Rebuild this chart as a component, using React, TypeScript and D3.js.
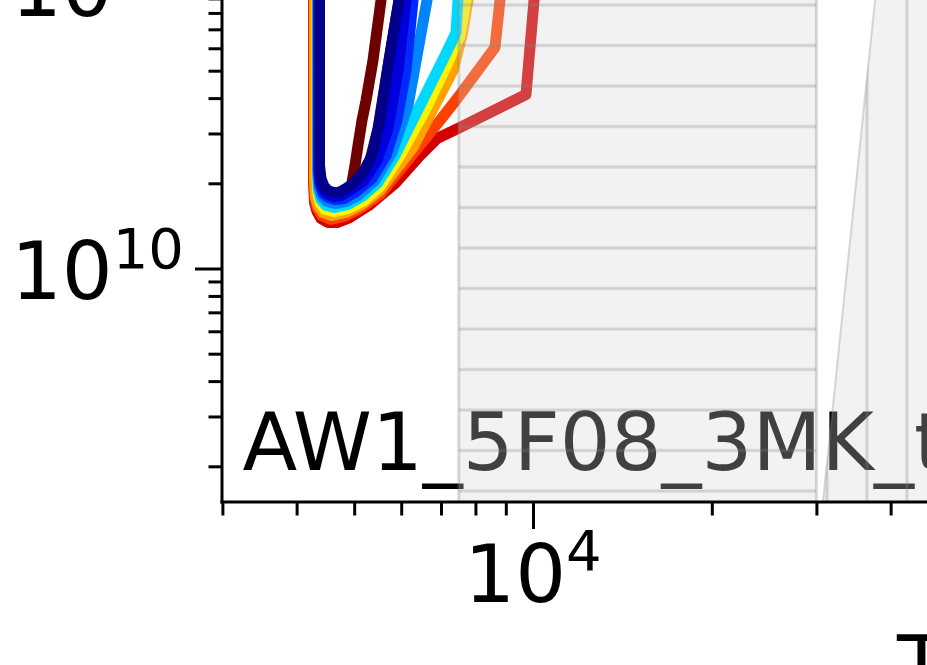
import React, { useRef, useEffect } from "react";
import * as d3 from "d3";

// tracks as [log10 Teff, log10 L] pairs
const maroonTrack = [
  [3.7475, 11.0177], [3.7441, 10.947], [3.7306, 10.735], [3.7189, 10.5936], [3.7121, 10.523],
  [3.7054, 10.4346], [3.7003, 10.364], [3.6953, 10.3039], [3.6953, 10.2827], [3.7054, 10.2968],
  [3.7222, 10.3534], [3.7391, 10.4947], [3.7576, 10.735], [3.7744, 10.947], [3.7795, 11.0177],
];
const redTrack = [
  [3.6305, 11.0177], [3.6305, 10.3039], [3.6322, 10.2332], [3.6364, 10.2014], [3.6431, 10.1767],
  [3.6549, 10.1625], [3.67, 10.1625], [3.6919, 10.1802], [3.7256, 10.2261], [3.7677, 10.3004],
  [3.8098, 10.3993], [3.8384, 10.4594], [3.8771, 10.4982], [3.9882, 10.6148], [4.0017, 10.947],
  [4.0034, 11.0177],
];
const orangeRedTrack = [
  [3.6313, 11.0177], [3.6313, 10.311], [3.633, 10.2438], [3.6372, 10.212], [3.6448, 10.1873],
  [3.6599, 10.1731], [3.6818, 10.1837], [3.7088, 10.212], [3.7424, 10.2615], [3.7929, 10.3922],
  [3.8434, 10.523], [3.8737, 10.6042], [3.936, 10.7809], [3.9444, 10.947], [3.9461, 11.0177],
];
const orangeTrack = [
  [3.6322, 11.0177], [3.6322, 10.318], [3.6338, 10.2544], [3.638, 10.2226], [3.6465, 10.1979],
  [3.6616, 10.1873], [3.6852, 10.1979], [3.7121, 10.2261], [3.7424, 10.2756], [3.798, 10.4276],
  [3.8653, 10.6996], [3.8805, 10.8233], [3.8906, 10.947], [3.8939, 11.0177],
];
const yellowTrack = [
  [3.6364, 11.0177], [3.6364, 10.3251], [3.638, 10.265], [3.6414, 10.2332], [3.6498, 10.2085],
  [3.665, 10.2014], [3.6886, 10.212], [3.7155, 10.2403], [3.7424, 10.2898], [3.7761, 10.3993],
  [3.8182, 10.5583], [3.8569, 10.7279], [3.8771, 10.8233], [3.8872, 10.947], [3.8906, 11.0177],
];
const cyanTrack = [
  [3.6372, 11.0177], [3.6372, 10.3322], [3.6389, 10.2756], [3.6431, 10.2438], [3.6515, 10.2226],
  [3.6667, 10.2155], [3.6886, 10.2261], [3.7121, 10.2544], [3.7391, 10.3039], [3.7677, 10.3993],
  [3.8098, 10.576], [3.8519, 10.7527], [3.8704, 10.8339], [3.8737, 10.947], [3.8754, 11.0177],
];
const skyTrack = [
  [3.638, 11.0177], [3.638, 10.3392], [3.6397, 10.2862], [3.6448, 10.2544], [3.6532, 10.2367],
  [3.6667, 10.2297], [3.6852, 10.2367], [3.7054, 10.258], [3.734, 10.311], [3.7626, 10.4099],
  [3.7896, 10.576], [3.8215, 10.947], [3.8283, 11.0177],
];
const blueTrack = [
  [3.6389, 11.0177], [3.6389, 10.3463], [3.6414, 10.2968], [3.6465, 10.265], [3.6549, 10.2509],
  [3.6667, 10.2438], [3.6818, 10.2473], [3.7003, 10.2686], [3.729, 10.318], [3.7525, 10.3993],
  [3.771, 10.523], [3.7862, 10.6996], [3.798, 10.947], [3.8013, 11.0177],
];
const midBlueTrack = [
  [3.6397, 11.0177], [3.6397, 10.3534], [3.6414, 10.3074], [3.6465, 10.2792], [3.6549, 10.2615],
  [3.665, 10.2544], [3.6768, 10.258], [3.6919, 10.2756], [3.7155, 10.311], [3.7374, 10.3816],
  [3.7559, 10.4947], [3.7727, 10.6996], [3.7862, 10.947], [3.7896, 11.0177],
];
const navyTrack = [
  [3.6406, 11.0177], [3.6406, 10.5936], [3.6406, 10.364], [3.6431, 10.318], [3.6481, 10.2898],
  [3.6549, 10.2756], [3.6633, 10.2686], [3.67, 10.2686], [3.6768, 10.2721], [3.6852, 10.2827],
  [3.6953, 10.2968], [3.7121, 10.3322], [3.729, 10.3993], [3.7407, 10.5053], [3.7576, 10.735],
  [3.7744, 10.947], [3.7795, 11.0177],
];

// drawing order: last one ends up on top
const trackColors = ["#6f0000", "#d40000", "#ff4000", "#ffa200", "#fcf400", "#00d8ff", "#0084ff", "#0028ff", "#0000dc", "#00008a"];
const tracks = [maroonTrack, redTrack, orangeRedTrack, orangeTrack, yellowTrack, cyanTrack, skyTrack, blueTrack, midBlueTrack, navyTrack];

// shaded zones
const spanTeff = [7500, 30000];
const wedgeEdge = [[4.4882, 9.1761], [4.5845, 11.1237]];

const xMajor = [1e4, 1e5];
const xMinor = [3e3, 4e3, 5e3, 6e3, 7e3, 8e3, 9e3, 2e4, 3e4, 4e4, 5e4, 6e4, 7e4, 8e4, 9e4];
const yMajor = [1e10, 1e11];
const yMinor = [2e9, 3e9, 4e9, 5e9, 6e9, 7e9, 8e9, 9e9, 2e10, 3e10, 4e10, 5e10, 6e10, 7e10, 8e10, 9e10];

const panelLabel = "AW1_5F08_3MK_t";

const W = 927;
const H = 665;
const FONT = "DejaVu Sans";

export default function App() {
  const ref = useRef(null);

  useEffect(() => {
    const svg = d3.select(ref.current);
    svg.selectAll("*").remove();

    const x = d3.scaleLog().domain([3000, 1e5]).range([222.4, 533 + 594]);
    const y = d3.scaleLog().domain([1.5e9, 1e11]).range([268.5 + 283 * Math.log10(1e10 / 1.5e9), 268.5 - 283]);
    const x0 = 222;
    const y0 = Math.round(y(1.5e9));

    const defs = svg.append("defs");
    defs.append("clipPath").attr("id", "axclip")
      .append("rect").attr("x", x0).attr("y", -200).attr("width", 1000).attr("height", y0 + 200);

    const hH = defs.append("pattern").attr("id", "hatchH")
      .attr("patternUnits", "userSpaceOnUse")
      .attr("width", 20).attr("height", 40.5).attr("x", 0).attr("y", 5 - 20);
    hH.append("line").attr("x1", 0).attr("x2", 20).attr("y1", 20).attr("y2", 20)
      .attr("stroke", "rgba(128,128,128,0.3)").attr("stroke-width", 3);

    const hV = defs.append("pattern").attr("id", "hatchV")
      .attr("patternUnits", "userSpaceOnUse")
      .attr("width", 40).attr("height", 20).attr("x", 867 - 20).attr("y", 0);
    hV.append("line").attr("x1", 20).attr("x2", 20).attr("y1", 0).attr("y2", 20)
      .attr("stroke", "rgba(128,128,128,0.3)").attr("stroke-width", 3);

    const plot = svg.append("g").attr("clip-path", "url(#axclip)");

    const line = d3.line()
      .x((d) => x(10 ** d[0]))
      .y((d) => y(10 ** d[1]));

    plot.selectAll(".track")
      .data(tracks)
      .join("path")
      .attr("class", "track")
      .attr("fill", "none")
      .attr("stroke", (d, i) => trackColors[i])
      .attr("stroke-width", 11)
      .attr("stroke-linejoin", "round")
      .attr("d", line);

    plot.append("text")
      .attr("x", 242.5)
      .attr("y", 470)
      .attr("font-family", FONT)
      .attr("font-size", 80)
      .attr("fill", "#000")
      .text(panelLabel);

    // vertical band with horizontal hatch
    const top = y(3e11);
    const bx1 = x(spanTeff[0]);
    const bx2 = x(spanTeff[1]);
    plot.append("rect")
      .attr("x", bx1).attr("y", top).attr("width", bx2 - bx1).attr("height", y0 - top)
      .attr("fill", "rgba(211,211,211,0.3)");
    plot.append("rect")
      .attr("x", bx1).attr("y", top).attr("width", bx2 - bx1).attr("height", y0 - top)
      .attr("fill", "url(#hatchH)");
    plot.selectAll(".bandEdge")
      .data(spanTeff)
      .join("line")
      .attr("class", "bandEdge")
      .attr("x1", (d) => x(d)).attr("x2", (d) => x(d))
      .attr("y1", top).attr("y2", y0)
      .attr("stroke", "rgba(128,128,128,0.3)")
      .attr("stroke-width", 3);

    // wedge with vertical hatch
    const e0 = [x(10 ** wedgeEdge[0][0]), y(10 ** wedgeEdge[0][1])];
    const e1 = [x(10 ** wedgeEdge[1][0]), y(10 ** wedgeEdge[1][1])];
    const wedge = `M${e0[0]},${e0[1]}L${e1[0]},${e1[1]}L${W + 50},${e1[1]}L${W + 50},${e0[1]}Z`;
    plot.append("path").attr("d", wedge).attr("fill", "rgba(211,211,211,0.3)");
    plot.append("path").attr("d", wedge).attr("fill", "url(#hatchV)");
    plot.append("line")
      .attr("x1", e0[0]).attr("y1", e0[1]).attr("x2", e1[0]).attr("y2", e1[1])
      .attr("stroke", "rgba(128,128,128,0.3)")
      .attr("stroke-width", 2);

    // axes
    const ax = svg.append("g");
    const bottom = ax.append("g").attr("transform", `translate(0,${y0})`);
    bottom.append("g").call(d3.axisBottom(x).tickValues(xMinor).tickSize(13.5).tickSizeOuter(0).tickFormat(() => ""));
    bottom.append("g").call(d3.axisBottom(x).tickValues(xMajor).tickSize(27).tickSizeOuter(0).tickFormat(() => ""));
    const left = ax.append("g").attr("transform", `translate(${x0},0)`);
    left.append("g").call(d3.axisLeft(y).tickValues(yMinor).tickSize(13.5).tickSizeOuter(0).tickFormat(() => ""));
    left.append("g").call(d3.axisLeft(y).tickValues(yMajor).tickSize(27).tickSizeOuter(0).tickFormat(() => ""));
    ax.selectAll(".domain").remove();
    ax.selectAll(".tick line").attr("stroke", "#000").attr("stroke-width", 3);

    ax.append("line").attr("x1", x0).attr("x2", x0).attr("y1", -20).attr("y2", y0 + 1.5)
      .attr("stroke", "#000").attr("stroke-width", 3);
    ax.append("line").attr("x1", x0 - 1.5).attr("x2", W + 20).attr("y1", y0).attr("y2", y0)
      .attr("stroke", "#000").attr("stroke-width", 3);

    // tick labels 10^n
    yMajor.forEach((v) => {
      const t = ax.append("text")
        .attr("x", 184)
        .attr("y", y(v) + 30)
        .attr("text-anchor", "end")
        .attr("font-family", FONT)
        .attr("font-size", 80)
        .attr("fill", "#000");
      t.append("tspan").text("10");
      t.append("tspan").attr("dy", -31).attr("font-size", 56).text(String(Math.round(Math.log10(v))));
    });
    xMajor.forEach((v) => {
      const t = ax.append("text")
        .attr("x", x(v))
        .attr("y", y0 + 100)
        .attr("text-anchor", "middle")
        .attr("font-family", FONT)
        .attr("font-size", 80)
        .attr("fill", "#000");
      t.append("tspan").text("10");
      t.append("tspan").attr("dy", -32).attr("font-size", 56).text(String(Math.round(Math.log10(v))));
    });

    // x axis title
    const xt = ax.append("text")
      .attr("x", 897)
      .attr("y", 693)
      .attr("font-family", FONT)
      .attr("font-size", 80)
      .attr("fill", "#000");
    xt.append("tspan").text("T");
    xt.append("tspan").attr("dy", 12).attr("font-size", 56).text("eff");
  }, []);

  return (
    <svg
      ref={ref}
      width={W}
      height={H}
      style={{ position: "absolute", left: 0, top: 0, display: "block", background: "#fff" }}
    />
  );
}
